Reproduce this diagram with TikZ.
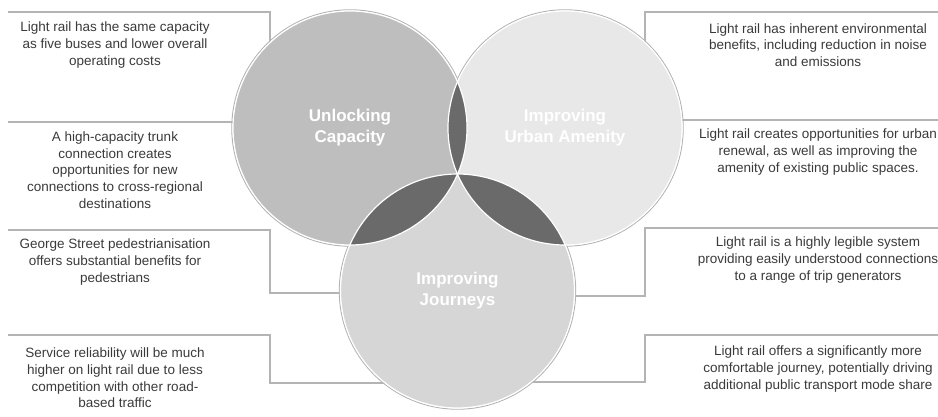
\documentclass[tikz,border=0pt]{standalone}
\usepackage{fontspec}
\setmainfont{Liberation Sans}
\usepackage{xcolor}
\usepackage{tikz}
\usetikzlibrary{backgrounds}
\definecolor{capFill}{HTML}{BEBEBE}
\definecolor{ameFill}{HTML}{E8E8E8}
\definecolor{jouFill}{HTML}{D6D6D6}
\definecolor{lensGray}{HTML}{6A6A6A}
\definecolor{ruleGray}{HTML}{B4B4B4}
\definecolor{txtGray}{HTML}{3A3A3A}

\begin{document}
\begin{tikzpicture}[
  x=1pt, y=-1pt,
  venn/.style={
    circle, fill=#1, minimum size=234pt, inner sep=0pt,
    text=white, align=center,
    font=\fontsize{17}{21}\selectfont\bfseries,
  },
  note/.style={
    text=txtGray, align=center, inner sep=0pt,
    font=\fontsize{13.5}{16.6}\selectfont,
  },
  rule/.style={draw=ruleGray, line width=1.1pt},
  lens/.style={fill=lensGray},
]
\useasboundingbox (0,0) rectangle (938,417);

% Circles
\node[venn=capFill] (capacity) at (350,128) {Unlocking\\Capacity};
\node[venn=ameFill] (amenity) at (565,128) {Improving\\Urban Amenity};
\node[venn=jouFill] (journeys) at (457.5,291) {Improving\\Journeys};

% Overlaps
\begin{scope}
  \clip (capacity.center) circle[radius=117pt];
  \fill[lens] (amenity.center) circle[radius=117pt];
  \fill[lens] (journeys.center) circle[radius=117pt];
\end{scope}
\begin{scope}
  \clip (amenity.center) circle[radius=117pt];
  \fill[lens] (journeys.center) circle[radius=117pt];
\end{scope}
\foreach \c in {capacity,amenity,journeys}
  \draw[white, line width=1.2pt] (\c.center) circle[radius=117pt];

% Left notes
\node[note] (cost) at (115,45)
  {Light rail has the same capacity\\as five buses and lower overall\\operating costs};
\node[note] (trunk) at (115,170)
  {A high-capacity trunk\\connection creates\\opportunities for new\\connections to cross-regional\\destinations};
\node[note] (george) at (115,262)
  {George Street pedestrianisation\\offers substantial benefits for\\pedestrians};
\node[note] (reliab) at (115,378)
  {Service reliability will be much\\higher on light rail due to less\\competition with other road-\\based traffic};

% Right notes
\node[note] (enviro) at (818,45)
  {Light rail has inherent environmental\\benefits, including reduction in noise\\and emissions};
\node[note] (renewal) at (818,152)
  {Light rail creates opportunities for urban\\renewal, as well as improving the\\amenity of existing public spaces.};
\node[note] (legible) at (818,260)
  {Light rail is a highly legible system\\providing easily understood connections\\to a range of trip generators};
\node[note] (comfort) at (818,369)
  {Light rail offers a significantly more\\comfortable journey, potentially driving\\additional public transport mode share};

% Brackets behind the circles
\begin{scope}[on background layer]
  \coordinate (l1) at (8,12);
  \coordinate (l2) at (8,122);
  \coordinate (l3) at (8,230);
  \coordinate (l4) at (8,335);
  \coordinate (r1) at (938,12);
  \coordinate (r2) at (938,120);
  \coordinate (r3) at (938,228);
  \coordinate (r4) at (938,335);
  \coordinate (l3e) at (400,293);
  \coordinate (l4e) at (420,383);
  \coordinate (r3e) at (520,296);
  \coordinate (r4e) at (500,382);
  \draw[rule] (l1) -- (270,12) -- (270,80);
  \draw[rule] (l2) -- (capacity.center |- l2);
  \draw[rule] (l3) -- (270,230) |- (l3e);
  \draw[rule] (l4) -- (270,335) |- (l4e);
  \draw[rule] (r1) -- (645,12) -- (645,80);
  \draw[rule] (r2) -- (amenity.center |- r2);
  \draw[rule] (r3) -- (645,228) |- (r3e);
  \draw[rule] (r4) -- (645,335) |- (r4e);
  \foreach \c in {capacity,amenity,journeys}
    \draw[ruleGray, line width=1pt] (\c.center) circle[radius=118.2pt];
\end{scope}
\end{tikzpicture}
\end{document}
